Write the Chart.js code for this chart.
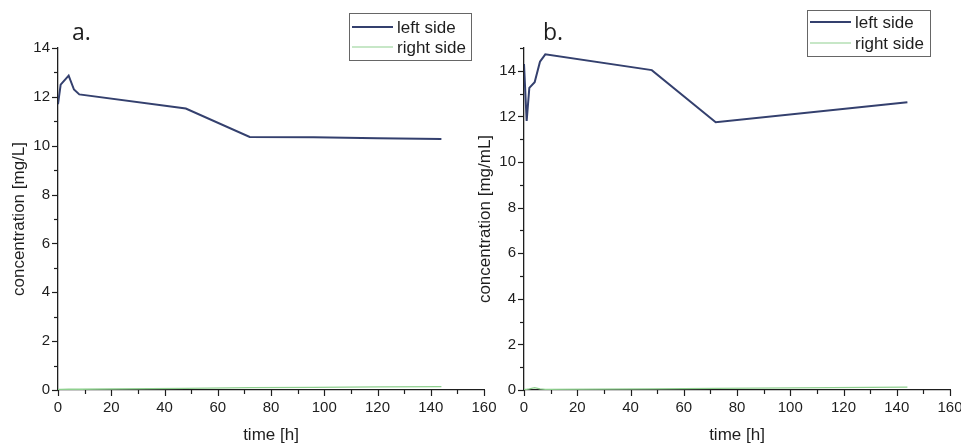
<!DOCTYPE html>
<html>
<head>
<meta charset="utf-8">
<script src="https://cdn.jsdelivr.net/npm/chart.js@4.4.0/dist/chart.umd.min.js"></script>
<style>
  html, body { margin: 0; padding: 0; background: #fff; }
  #wrap { position: relative; width: 961px; height: 447px; overflow: hidden; }
  canvas { position: absolute; top: 0; }
  #chartA { left: 0; }
  #chartB { left: 466px; }
</style>
</head>
<body>
<div id="wrap">
  <canvas id="chartA" width="500" height="447" style="width:500px;height:447px"></canvas>
  <canvas id="chartB" width="495" height="447" style="width:495px;height:447px"></canvas>
</div>
<script>
// panel a: concentration in mg/L
const timesA = [0, 1, 4, 6, 8, 48, 72, 96, 120, 144];
const leftA  = [11.7, 12.5, 12.87, 12.3, 12.1, 11.52, 10.36, 10.35, 10.31, 10.27];
const rightA = [0.02, 0.02, 0.03, 0.03, 0.03, 0.07, 0.1, 0.11, 0.13, 0.14];

// panel b: concentration in mg/mL
const timesB = [0, 1, 2, 4, 6, 8, 48, 72, 144];
const leftB  = [14.3, 11.8, 13.25, 13.5, 14.4, 14.72, 14.03, 11.74, 12.62];
const rightB = [0.03, 0.03, 0.05, 0.1, 0.05, 0.03, 0.05, 0.07, 0.13];

const seriesNames = ['left side', 'right side'];
const xTickLabels = [0, 20, 40, 60, 80, 100, 120, 140, 160];

const BLUE = '#34406e';
const GREEN = '#8fd08f';
const INK = '#1e1e1e';
const SANS = '"Liberation Sans", Arial, sans-serif';

const toPoints = (xs, ys) => xs.map((t, i) => ({ x: t, y: ys[i] }));

// outward tick marks, long for labelled ticks, short for the rest
const tickMarks = {
  id: 'tickMarks',
  afterDraw(chart) {
    const { ctx, scales: { x, y } } = chart;
    ctx.save();
    ctx.strokeStyle = INK;
    ctx.lineWidth = 1.2;
    x.ticks.forEach(t => {
      const px = Math.round(x.getPixelForValue(t.value)) + 0.5;
      const len = xTickLabels.includes(t.value) ? 6 : 4;
      ctx.beginPath();
      ctx.moveTo(px, x.top);
      ctx.lineTo(px, x.top + len);
      ctx.stroke();
    });
    y.ticks.forEach(t => {
      const py = Math.round(y.getPixelForValue(t.value)) + 0.5;
      const len = t.value % 2 === 0 ? 6 : 4;
      ctx.beginPath();
      ctx.moveTo(y.right, py);
      ctx.lineTo(y.right - len, py);
      ctx.stroke();
    });
    ctx.restore();
  }
};

// boxed legend and the panel letter
const decorations = {
  id: 'decorations',
  afterDraw(chart, args, opts) {
    const { ctx } = chart;
    const b = opts.box;
    ctx.save();
    ctx.fillStyle = '#fff';
    ctx.fillRect(b.x, b.y, b.w, b.h);
    ctx.strokeStyle = '#666';
    ctx.lineWidth = 1;
    ctx.strokeRect(b.x + 0.5, b.y + 0.5, b.w, b.h);
    const colors = [BLUE, GREEN];
    const widths = [2, 1.2];
    seriesNames.forEach((name, i) => {
      const ly = b.y + b.row0 + i * b.rowGap;
      ctx.strokeStyle = colors[i];
      ctx.lineWidth = widths[i];
      ctx.beginPath();
      ctx.moveTo(b.x + 3, ly);
      ctx.lineTo(b.x + 3 + b.sample, ly);
      ctx.stroke();
      ctx.fillStyle = INK;
      ctx.font = '17px ' + SANS;
      ctx.textBaseline = 'middle';
      ctx.fillText(name, b.x + b.sample + 7, ly + 1);
    });
    ctx.font = '23px "Open Sans", sans-serif';
    ctx.textBaseline = 'alphabetic';
    ctx.fillStyle = INK;
    ctx.fillText(opts.letter, opts.letterX, 40);
    ctx.restore();
  }
};

function makeChart(id, times, left, right, yMax, yTitle, padRight, letter, letterX, box) {
  new Chart(document.getElementById(id), {
    type: 'line',
    data: {
      datasets: [
        { label: seriesNames[1], data: toPoints(times, right), borderColor: GREEN, borderWidth: 1.3, pointRadius: 0, tension: 0 },
        { label: seriesNames[0], data: toPoints(times, left), borderColor: BLUE, borderWidth: 2, pointRadius: 0, tension: 0 }
      ]
    },
    options: {
      responsive: false,
      animation: false,
      layout: { padding: { left: 0, top: 48, right: padRight, bottom: 0 } },
      plugins: {
        legend: { display: false },
        tooltip: { enabled: false },
        decorations: { letter, letterX, box }
      },
      scales: {
        x: {
          type: 'linear',
          min: 0,
          max: 160,
          afterFit: s => { s.height = 57; s.paddingLeft = 0; s.paddingRight = 0; },
          grid: { display: false, drawTicks: false },
          border: { color: INK, width: 1.3 },
          ticks: {
            stepSize: 10,
            autoSkip: false,
            maxRotation: 0,
            padding: 9,
            color: INK,
            font: { size: 15, family: SANS },
            callback: v => xTickLabels.includes(v) ? v : ''
          },
          title: {
            display: true,
            text: 'time [h]',
            color: INK,
            font: { size: 17, family: SANS },
            padding: { top: 0, bottom: 1 }
          }
        },
        y: {
          min: 0,
          max: yMax,
          afterFit: s => { s.width = 58; s.paddingTop = 0; s.paddingBottom = 0; },
          grid: { display: false, drawTicks: false },
          border: { color: INK, width: 1.3 },
          ticks: {
            stepSize: 1,
            autoSkip: false,
            padding: 8,
            color: INK,
            font: { size: 15, family: SANS },
            callback: v => v % 2 === 0 ? v : ''
          },
          title: {
            display: true,
            text: yTitle,
            color: INK,
            font: { size: 17, family: SANS },
            padding: { top: 9, bottom: 0 }
          }
        }
      }
    },
    plugins: [tickMarks, decorations]
  });
}

makeChart('chartA', timesA, leftA, rightA, 14, 'concentration [mg/L]', 16, 'a.', 72,
  { x: 349, y: 13, w: 122, h: 47, row0: 14, rowGap: 20, sample: 41 });
makeChart('chartB', timesB, leftB, rightB, 15, 'concentration [mg/mL]', 11, 'b.', 77,
  { x: 341, y: 10, w: 123, h: 46, row0: 12, rowGap: 21, sample: 41 });
</script>
</body>
</html>
